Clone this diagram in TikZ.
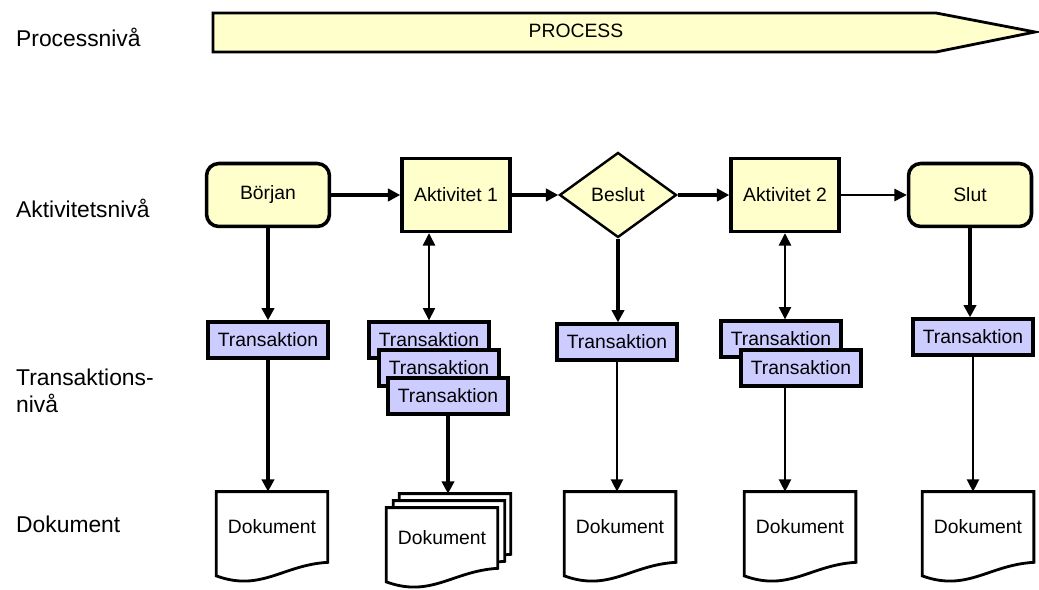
\documentclass[tikz,border=0pt]{standalone}
\usepackage{fontspec}
\setmainfont{Liberation Sans}
\usetikzlibrary{shapes.geometric, arrows.meta}

\definecolor{gul}{HTML}{FFFFCC}
\definecolor{lila}{HTML}{CCCCFF}

\tikzset{
  nivatext/.style={anchor=west, align=left, font=\fontsize{13}{15}\selectfont},
  rutatext/.style={font=\fontsize{11}{13}\selectfont},
  aktivitet/.style={rutatext, draw, fill=gul, line width=2pt, minimum width=2.16cm, minimum height=1.46cm},
  terminal/.style={aktivitet, rounded corners=7pt, minimum width=2.46cm, minimum height=1.26cm},
  beslut/.style={rutatext, diamond, draw, fill=gul, line width=1.4pt, inner sep=0pt, minimum width=2.34cm, minimum height=1.7cm},
  transaktion/.style={rutatext, draw, fill=lila, line width=1.9pt, inner sep=1pt, minimum width=2.4cm, minimum height=0.72cm},
  dokument/.style={rutatext, inner sep=0pt, minimum width=2.22cm, minimum height=1.4cm},
  dokram/.style={draw, fill=white, line width=1.6pt},
  spets/.tip={Triangle[length=7pt, width=7pt]},
  pil/.style={line width=1.8pt, -spets},
  tunnpil/.style={line width=0.8pt, -spets},
  dubbelpil/.style={line width=0.8pt, spets-spets},
}

\begin{document}
\begin{tikzpicture}[x=0.02cm, y=-0.02cm]
  \useasboundingbox (0,0) rectangle (1039,590);

  % nivaer
  \node[nivatext] (pniva) at (10,37) {Processnivå};
  \node[nivatext] (aniva) at (10,208) {Aktivitetsnivå};
  \node[nivatext] (tniva) at (10,391) {Transaktions-\\nivå};
  \node[nivatext] (dniva) at (10,524) {Dokument};

  % processpil
  \draw[fill=gul, line width=1.6pt] (213,13) -- (936,13) -- (1035,32) -- (936,52) -- (213,52) -- cycle;
  \node[rutatext] (process) at (576,31) {PROCESS};

  % aktiviteter
  \node[terminal]  (borjan) at (268,195) {Början};
  \node[aktivitet] (akt1)   at (456,195) {Aktivitet 1};
  \node[beslut]    (beslut) at (618,195) {Beslut};
  \node[aktivitet] (akt2)   at (785,195) {Aktivitet 2};
  \node[terminal]  (slut)   at (970,195) {Slut};

  \draw[pil] (borjan) -- (akt1);
  \draw[pil] (akt1) -- (beslut);
  \draw[pil] (beslut) -- (akt2);
  \draw[tunnpil] (akt2) -- (slut);

  % transaktioner
  \node[transaktion] (t1)  at (268,340) {Transaktion};
  \node[transaktion] (t2a) at (429,340) {Transaktion};
  \node[transaktion] (t2b) at (439,368) {Transaktion};
  \node[transaktion] (t2c) at (448,396) {Transaktion};
  \node[transaktion] (t3)  at (617,342) {Transaktion};
  \node[transaktion] (t4a) at (781,339) {Transaktion};
  \node[transaktion] (t4b) at (801,368) {Transaktion};
  \node[transaktion] (t5)  at (973,337) {Transaktion};

  \draw[pil] (borjan.south) -- (borjan.south |- t1.north);
  \draw[dubbelpil] (akt1.south -| t2a.north) -- (t2a.north);
  \draw[pil] (beslut.south) -- (beslut.south |- t3.north);
  \draw[dubbelpil] (akt2.south) -- (akt2.south |- t4a.north);
  \draw[pil] (slut.south) -- (slut.south |- t5.north);

  % dokument
  \node[dokument, minimum height=1.2cm] (d2a) at (455,524) {};
  \node[dokument, minimum height=1.2cm] (d2b) at (449,531) {};
  \node[dokument] (d1)  at (272,527) {};
  \node[dokument, minimum height=1.2cm] (d2)  at (442,538) {};
  \node[dokument] (d3)  at (620,527) {};
  \node[dokument] (d4)  at (800,527) {};
  \node[dokument] (d5)  at (978,527) {};
  \foreach \d in {d2a,d2b,d1,d2,d3,d4,d5}
    \draw[dokram] (\d.north west) -- (\d.north east) -- (\d.south east)
      .. controls ([xshift=-0.9cm, yshift=-0.05cm]\d.south east) and ([xshift=0.9cm, yshift=-0.6cm]\d.south west)
      .. ([yshift=-0.27cm]\d.south west) -- cycle;
  \foreach \d in {d1,d2,d3,d4,d5}
    \node[rutatext] (\d text) at (\d) {Dokument};

  \draw[pil] (t1.south) -- (t1.south |- d1.north);
  \draw[pil] (t2c.south) -- (t2c.south |- d2a.north);
  \draw[tunnpil] (t3.south) -- (t3.south |- d3.north);
  \draw[tunnpil] (akt2.south |- t4b.south) -- (akt2.south |- d4.north);
  \draw[tunnpil] (t5.south) -- (t5.south |- d5.north);
\end{tikzpicture}
\end{document}
